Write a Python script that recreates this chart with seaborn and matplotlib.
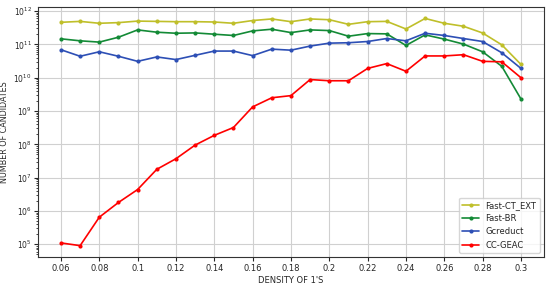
import numpy as np
import pandas as pd
import seaborn as sns
import matplotlib.pyplot as plt

density = [0.06, 0.07, 0.08, 0.09, 0.10, 0.11, 0.12, 0.13, 0.14, 0.15, 0.16, 0.17,
           0.18, 0.19, 0.20, 0.21, 0.22, 0.23, 0.24, 0.25, 0.26, 0.27, 0.28, 0.29, 0.30]

fast_ct_ext = [4.6e11, 4.9e11, 4.3e11, 4.5e11, 5.0e11, 4.9e11, 4.8e11, 4.8e11, 4.7e11, 4.3e11,
               5.2e11, 5.8e11, 4.8e11, 5.8e11, 5.5e11, 4.0e11, 4.8e11, 4.9e11, 2.9e11, 6.0e11,
               4.3e11, 3.5e11, 2.2e11, 9.7e10, 2.5e10]
fast_br = [1.47e11, 1.28e11, 1.17e11, 1.64e11, 2.72e11, 2.32e11, 2.16e11, 2.21e11, 2.02e11, 1.85e11,
           2.54e11, 2.85e11, 2.26e11, 2.72e11, 2.6e11, 1.76e11, 2.11e11, 2.07e11, 9.3e10, 1.93e11,
           1.44e11, 1.02e11, 6.0e10, 2.2e10, 2.3e9]
gcreduct = [6.9e10, 4.4e10, 6.0e10, 4.4e10, 3.1e10, 4.2e10, 3.5e10, 4.7e10, 6.3e10, 6.3e10,
            4.6e10, 7.2e10, 6.7e10, 8.9e10, 1.09e11, 1.12e11, 1.22e11, 1.5e11, 1.28e11, 2.16e11,
            1.85e11, 1.5e11, 1.22e11, 5.6e10, 1.9e10]
cc_geac = [1.1e5, 9.1e4, 6.5e5, 1.8e6, 4.4e6, 1.78e7, 3.7e7, 9.5e7, 1.86e8, 3.2e8,
           1.33e9, 2.5e9, 2.9e9, 8.8e9, 8.1e9, 8.1e9, 1.9e10, 2.65e10, 1.56e10, 4.5e10,
           4.5e10, 4.9e10, 3.1e10, 3.0e10, 1.0e10]

methods = ["Fast-CT_EXT", "Fast-BR", "Gcreduct", "CC-GEAC"]
colors = ["#bfbf2a", "#138a36", "#2d4fb5", "#ff0000"]
xtick_vals = [0.06, 0.08, 0.1, 0.12, 0.14, 0.16, 0.18, 0.2, 0.22, 0.24, 0.26, 0.28, 0.3]
xtick_labels = ["0.06", "0.08", "0.1", "0.12", "0.14", "0.16", "0.18", "0.2",
                "0.22", "0.24", "0.26", "0.28", "0.3"]

# long table for seaborn
df = pd.DataFrame({
    "density": density * 4,
    "count": fast_ct_ext + fast_br + gcreduct + cc_geac,
    "method": np.repeat(methods, len(density)),
})

sns.set_style("whitegrid", {"grid.color": "#d0d0d0", "axes.edgecolor": "#333333"})
plt.rcParams["font.family"] = ["DejaVu Sans"]

fig, ax = plt.subplots(figsize=(5.5, 2.84), dpi=100)
sns.lineplot(data=df, x="density", y="count", hue="method", hue_order=methods,
             palette=colors, marker="o", markersize=3, markeredgewidth=0,
             linewidth=1.2, ax=ax)

ax.set_yscale("log")
ax.set_xticks(xtick_vals)
ax.set_xticklabels(xtick_labels)
ax.tick_params(axis="x", labelsize=6, bottom=True, length=3, pad=2)
ax.tick_params(axis="y", labelsize=5.5, left=True, length=3, pad=1.5)
ax.tick_params(which="minor", left=True, length=1.5)
ax.set_xlabel("DENSITY OF 1'S", fontsize=6, labelpad=2)
ax.set_ylabel("NUMBER OF CANDIDATES", fontsize=5.8)
ax.yaxis.set_label_coords(-0.057, 0.5)
ax.legend(loc="lower right", fontsize=6, title=None, frameon=True)

fig.subplots_adjust(left=0.069, right=0.989, top=0.975, bottom=0.095)
fig.savefig("out.png", dpi=100)
